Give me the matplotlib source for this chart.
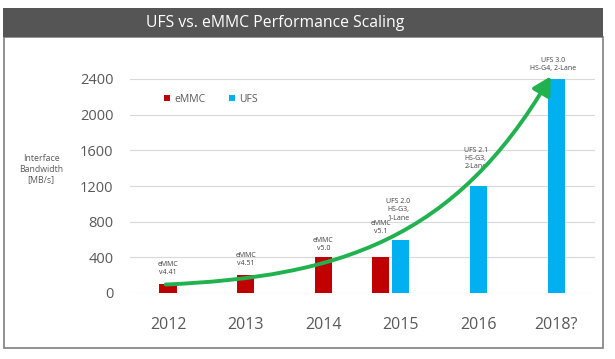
import matplotlib.pyplot as plt
import matplotlib.patches as mpatches
from matplotlib.path import Path

years = ["2012", "2013", "2014", "2015", "2016", "2018?"]

emmc_years = ["2012", "2013", "2014", "2015"]
emmc_bw = [100, 200, 400, 400]
emmc_labels = ["eMMC\nv4.41", "eMMC\nv4.51", "eMMC\nv5.0", "eMMC\nv5.1"]

ufs_years = ["2015", "2016", "2018?"]
ufs_bw = [600, 1200, 2400]
ufs_labels = ["UFS 2.0\nHS-G3,\n1-Lane", "UFS 2.1\nHS-G3,\n2-Lane", "UFS 3.0\nHS-G4, 2-Lane"]

plt.rcParams['font.family'] = ['Open Sans', 'DejaVu Sans']
grey = "#595959"
red = "#c00000"
blue = "#00b0f0"
green = "#21b24f"

W, H = 615, 359
fig = plt.figure(figsize=(W / 100, H / 100), dpi=100)

# frame and title bar (pixel coords from top-left)
def px(x, y):
    return x / W, 1 - y / H

fig.patches.append(mpatches.Rectangle(px(4, 348), 599 / W, 311 / H, transform=fig.transFigure,
                                      facecolor="white", edgecolor="#7f7f7f", lw=1.2, zorder=-2))
fig.patches.append(mpatches.Rectangle(px(3, 37), 600 / W, 29 / H, transform=fig.transFigure,
                                      facecolor="#555555", edgecolor="none", zorder=-1))
fig.text(*px(275, 23), "UFS vs. eMMC Performance Scaling", color="white", fontsize=11.3,
         ha="center", va="center")

ax = fig.add_axes([130 / W, 1 - 293 / H, 465 / W, 214 / H])
ax.set_facecolor("none")

pos = {y: i for i, y in enumerate(years)}
emmc_x = [pos[y] for y in emmc_years]
emmc_x[-1] -= 0.26  # 2015 eMMC bar sits left of the UFS bar
ufs_x = [pos[y] for y in ufs_years]

w = 0.22
b1 = ax.bar(emmc_x, emmc_bw, width=w, color=red, zorder=2, label="eMMC")
b2 = ax.bar(ufs_x, ufs_bw, width=w, color=blue, zorder=2, label="UFS")

emmc_off = [8, 8, 5, 22]
for x, v, t, o in zip(emmc_x, emmc_bw, emmc_labels, emmc_off):
    ax.annotate(t, (x, v), xytext=(0, o * 0.72), textcoords="offset points", ha="center",
                va="bottom", fontsize=5, color="#404040", linespacing=1.25, annotation_clip=False)
ufs_off = [18, 16, 7]
for x, v, t, o in zip(ufs_x, ufs_bw, ufs_labels, ufs_off):
    ax.annotate(t, (x, v), xytext=(-2, o * 0.72), textcoords="offset points", ha="center",
                va="bottom", fontsize=5, color="#404040", linespacing=1.25, annotation_clip=False)

# growth arrow
verts = [(-0.03, 95), (2.2, 180), (3.7, 600), (4.93, 2430)]
path = Path(verts, [Path.MOVETO, Path.CURVE4, Path.CURVE4, Path.CURVE4])
arrow = mpatches.FancyArrowPatch(path=path, arrowstyle="-|>,head_length=0.9,head_width=0.5",
                                 mutation_scale=12, color=green, lw=2.8, zorder=3)
ax.add_patch(arrow)
arrow.set_clip_on(False)

ax.set_xlim(-0.49, 5.5)
ax.set_ylim(0, 2400)
ax.set_yticks(range(0, 2401, 400))
ax.set_xticks(range(len(years)))
ax.set_xticklabels(years)
ax.grid(axis="y", color="#d9d9d9", lw=0.8, zorder=0)
ax.set_axisbelow(True)
for s in ax.spines.values():
    s.set_visible(False)
ax.tick_params(axis="y", length=0, pad=12, labelsize=10.5, labelcolor=grey)
ax.tick_params(axis="x", length=0, pad=17, labelsize=11.5, labelcolor=grey)

fig.text(*px(41, 169), "Interface\nBandwidth\n[MB/s]", ha="center", va="center",
         fontsize=6.3, color=grey, linespacing=1.25)

ax.legend(handles=[b1, b2], loc="center left", bbox_to_anchor=px(159, 99),
          bbox_transform=fig.transFigure, ncol=2, frameon=False, fontsize=7.5,
          handlelength=0.6, handleheight=0.6, handletextpad=0.4, columnspacing=2.2,
          borderpad=0, labelcolor=grey)

fig.savefig("out.png", dpi=100)
